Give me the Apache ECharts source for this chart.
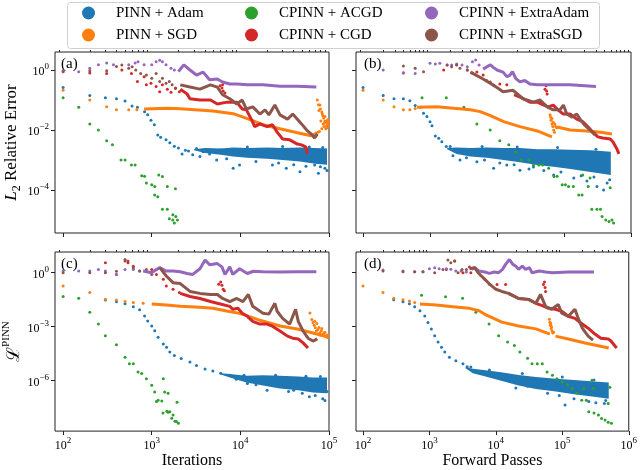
<!DOCTYPE html>
<html>
<head>
<meta charset="utf-8">
<title>PINN vs CPINN convergence</title>
<script src="https://cdn.jsdelivr.net/npm/echarts@6/dist/echarts.min.js"></script>
<style>html,body{margin:0;padding:0;background:#fff;}</style>
</head>
<body>
<div id="main" style="width:640px;height:470px;"></div>
<script type="text/javascript">
var methods = ['PINN + Adam', 'PINN + SGD', 'CPINN + ACGD', 'CPINN + CGD', 'CPINN + ExtraAdam', 'CPINN + ExtraSGD'];
var colors = ['#1f77b4', '#ff7f0e', '#2ca02c', '#d62728', '#9467bd', '#8c564b'];
var panelTags = ['(a)', '(b)', '(c)', '(d)'];
var iterTicks = [1e2, 1e3, 1e4, 1e5];
var passTicks = [1e2, 1e3, 1e4, 1e5, 1e6];
var iterMinor = [90, 200, 300, 400, 500, 600, 700, 800, 900, 2e3, 3e3, 4e3, 5e3, 6e3, 7e3, 8e3, 9e3, 2e4, 3e4, 4e4, 5e4, 6e4, 7e4, 8e4, 9e4];
var passMinor = [90, 200, 300, 400, 500, 600, 700, 800, 900, 2e3, 3e3, 4e3, 5e3, 6e3, 7e3, 8e3, 9e3, 2e4, 3e4, 4e4, 5e4, 6e4, 7e4, 8e4, 9e4, 2e5, 3e5, 4e5, 5e5, 6e5, 7e5, 8e5, 9e5];
var errTicks = [1e-4, 1e-2, 1];
var lossTicks = [1e-6, 1e-3, 1];

// (a) L2 error vs iterations
var aAdamPts = [[100,0.26],[200,0.14],[300,0.12],[400,0.11],[500,0.093],[600,0.063],[690,0.057],[830,0.041],[900,0.032],[980,0.021],[1070,0.015],[1170,6.8e-3],[1260,5.7e-3],[1450,4.7e-3],[1600,3.8e-3],[1800,2.9e-3],[2000,2.5e-3],[2200,1.6e-3],[2400,2.1e-3],[2600,2e-3],[2900,1.5e-3],[3200,2.4e-3],[3500,1.3e-3],[3800,1.9e-3],[4200,2.2e-3],[4500,1.6e-3],[5400,1e-3],[6000,2.2e-3],[7000,1.1e-3],[8300,5.3e-4],[9800,6.8e-4],[1.2e4,2.7e-3],[1.5e4,9e-4],[2.3e4,6.8e-4],[2.7e4,8e-4],[3e4,2.8e-3],[3.3e4,5.3e-4],[4e4,7e-4],[4.7e4,4.1e-4],[5.5e4,6.2e-4],[6e4,2.7e-3],[6.9e4,6.8e-4],[7.6e4,3.6e-4],[8e4,6e-4],[8.5e4,2.6e-3],[9e4,5.3e-4],[9.5e4,4.5e-4]];
var aAdamBand = [[3000,2.1e-3,2.3e-3],[4000,1.7e-3,2.5e-3],[6000,1.5e-3,2.4e-3],[8300,1.3e-3,2.6e-3],[1.2e4,1.2e-3,2.5e-3],[2e4,1.1e-3,2.6e-3],[3e4,1e-3,2.5e-3],[4.7e4,9e-4,2.6e-3],[7e4,7.5e-4,2.5e-3],[9.5e4,7e-4,2.4e-3]];
var aSgdPts = [[100,0.21],[200,0.1],[310,0.06],[400,0.047],[550,0.047],[680,0.047]];
var aSgdLine = [[820,0.05],[1500,0.053],[2100,0.051],[4900,0.043],[8300,0.035],[1.2e4,0.024],[1.8e4,0.015],[2.8e4,0.011],[4.4e4,8.1e-3],[6.1e4,6.6e-3],[7e4,6.2e-3]];
var aSgdCloud = [[6.8e4,7.2e-3],[7.1e4,8e-3],[7.4e4,0.1],[7.5e4,8.5e-3],[7.6e4,0.07],[7.7e4,0.045],[7.8e4,9e-3],[7.9e4,0.068],[8e4,0.05],[8.1e4,0.02],[8.3e4,0.04],[8.3e4,0.011],[8.4e4,0.035],[8.5e4,0.03],[8.6e4,0.016],[8.7e4,0.025],[8.8e4,0.013],[8.9e4,0.017],[9e4,0.02],[9e4,0.028],[9.2e4,0.018],[9.2e4,0.011],[9.4e4,0.014],[9.4e4,0.02],[9.5e4,0.012],[9.6e4,0.016],[9.7e4,0.022],[9.8e4,0.018],[9.8e4,0.014]];
var aAcgdPts = [[100,0.12],[150,0.057],[200,0.016],[250,0.01],[310,4.4e-3],[360,3.2e-3],[450,1e-3],[500,1e-3],[590,6.8e-4],[650,6.8e-4],[770,3e-4],[830,2.9e-4],[870,1.7e-4],[1000,1.5e-4],[1080,1.3e-4],[1200,3.2e-4],[1320,2.8e-4],[1080,6.8e-5],[1170,6e-5],[1500,1.3e-4],[1850,1.1e-4],[1320,2.3e-5],[1500,2.3e-5],[1580,1.1e-5],[1730,1e-5],[1870,1.3e-5],[1730,1.5e-5],[1800,8e-6],[1950,1e-5]];
var aCgdPts = [[200,0.8],[310,0.77],[460,1.0],[590,0.77],[690,0.41],[820,0.6],[870,0.32],[980,0.36],[1120,0.28],[1230,0.19],[1320,0.32],[1500,0.23],[1650,0.18],[1850,0.25],[2050,0.19],[5900,0.3],[6200,0.25],[6300,0.32],[6400,0.2],[6700,0.17]];
var aCgdLine = [[2100,0.23],[2500,0.16],[2700,0.11],[3500,0.1],[4600,0.1],[5500,0.074],[7100,0.085],[9100,0.085],[1.05e4,0.05],[1.17e4,0.047],[1.35e4,0.021],[1.45e4,0.013],[1.66e4,0.016],[2e4,0.013],[2.3e4,0.015],[2.6e4,8.5e-3],[3e4,5e-3],[3.6e4,4.7e-3],[4.4e4,3.4e-3],[4.9e4,3.2e-3],[5.5e4,2.7e-3],[5.7e4,1.6e-3]];
var aXAdamPts = [[100,0.95],[150,0.88],[200,1.14],[250,1.5],[310,1.7],[370,1.5],[550,1.5],[650,1.7],[700,1.9],[820,1.5],[1000,1.5],[1120,1.9],[1230,2.1],[1320,1.9],[1450,1.5],[1650,1.14],[1800,1.0]];
var aXAdamLine = [[2000,0.88],[2100,0.85],[2300,1.48],[2700,1.0],[3200,0.68],[3800,0.85],[4500,0.47],[5500,0.5],[6300,0.4],[7600,0.34],[9100,0.34],[1.2e4,0.32],[1.8e4,0.32],[2.8e4,0.29],[4.4e4,0.29],[7.2e4,0.27]];
var aXSgdPts = [[100,0.88],[200,0.95],[310,0.95],[400,1.3],[460,1.47],[550,1.14],[600,1.29],[660,1.0],[750,0.77],[870,0.68],[1000,0.53],[1120,0.77],[1230,0.41],[1320,0.53],[1450,0.36],[1580,0.41],[1700,0.32],[1850,0.24]];
var aXSgdLine = [[2100,0.32],[2700,0.27],[3500,0.23],[4600,0.32],[5500,0.27],[6300,0.15],[7600,0.11],[9100,0.074],[1.05e4,0.1],[1.17e4,0.05],[1.38e4,0.059],[1.66e4,0.034],[1.9e4,0.047],[2.1e4,0.032],[2.45e4,0.068],[2.8e4,0.032],[3.4e4,0.023],[3.9e4,0.034],[4.4e4,0.023],[4.9e4,0.016],[5.6e4,0.01],[6.5e4,6.8e-3],[6.9e4,5.4e-3],[7.4e4,7.4e-3]];

// (b) L2 error vs forward passes
var bAdamPts = [[100,0.26],[200,0.14],[290,0.11],[400,0.11],[500,0.095],[600,0.065],[720,0.057],[800,0.036],[900,0.028],[1000,0.019],[1070,0.014],[1200,6.3e-3],[1350,5.3e-3],[1500,4.1e-3],[1750,2.8e-3],[2000,2.8e-3],[2200,1.4e-3],[2800,1e-3],[3500,1.2e-3],[5000,8.7e-4],[6000,2.8e-3],[6500,1e-3],[8900,5.3e-4],[1.1e4,8e-4],[1.4e4,6.8e-4],[1.8e4,7e-4],[2e4,2.7e-3],[2.2e4,4.6e-4],[3e4,5e-4],[3.5e4,5.9e-4],[5e4,4.5e-4],[7e4,3.2e-4],[8e4,2.6e-3],[9e4,4e-4],[1.4e5,2.5e-4],[1.8e5,3e-4],[2.2e5,2e-4],[2.8e5,2.7e-4],[3e5,2.3e-3],[3.1e5,1.3e-4],[3.9e5,1e-4],[4.4e5,1.7e-4],[4.8e5,2.2e-4]];
var bAdamBand = [[1800,2.3e-3,2.5e-3],[2500,1.6e-3,2.6e-3],[4000,1.3e-3,2.5e-3],[7000,1.2e-3,2.6e-3],[1.25e4,1e-3,2.5e-3],[2.2e4,8.5e-4,2.5e-3],[4e4,6.8e-4,2.3e-3],[7e4,6e-4,2.3e-3],[1.25e5,5e-4,2.2e-3],[2.5e5,4e-4,2.1e-3],[5e5,3.2e-4,1.9e-3]];
var bSgdPts = [[100,0.21],[200,0.1],[290,0.06],[400,0.047],[500,0.047],[600,0.052]];
var bSgdLine = [[640,0.057],[1260,0.06],[2250,0.053],[4000,0.047],[5600,0.041],[8000,0.03],[1.26e4,0.019],[2.2e4,0.013],[4e4,9.3e-3],[6.6e4,5.9e-3]];
var bSgdSpike = [[6.2e4,0.032],[6.3e4,0.027],[6.4e4,0.021],[6.6e4,0.016],[6.6e4,0.024],[6.8e4,0.013],[6.9e4,0.018],[7e4,0.01],[7.2e4,8.5e-3],[7.3e4,0.016],[7.5e4,0.013],[7.8e4,0.012]];
var bSgdLine2 = [[7.9e4,0.0126],[1.24e5,0.01],[2.2e5,9.3e-3],[3.5e5,8.4e-3],[5.2e5,7.4e-3]];
var bAcgdPts = [[760,0.12],[1750,0.12],[3200,0.057],[5000,0.016],[7900,0.01],[1.1e4,4.4e-3],[1.5e4,3.2e-3],[1.9e4,1.8e-3],[2.3e4,1e-3],[3e4,1e-3],[3.5e4,6.8e-4],[4.2e4,6.8e-4],[4.8e4,6.8e-4],[5.9e4,5.3e-4],[7.1e4,2.8e-4],[7.9e4,2.9e-4],[9.4e4,1.5e-4],[1.05e5,1.5e-4],[1.17e5,1.3e-4],[1.38e5,1.3e-4],[1.66e5,6.8e-5],[1.86e5,6.8e-5],[1.9e5,3.2e-4],[2.45e5,2.5e-4],[2.3e5,1.3e-4],[2.6e5,2.3e-5],[3.1e5,2.3e-5],[3.5e5,2.3e-5],[3.7e5,1.3e-5],[4.2e5,1e-5],[4.7e5,9e-6],[5.2e5,1e-5],[4.9e5,1.2e-4],[5.5e5,8e-6]];
var bCgdPts = [[400,0.8],[1600,1.0],[2500,1.5],[3600,1.0],[4300,0.8],[5000,0.85],[6200,0.68],[7000,0.45],[7900,0.4],[9000,0.3],[1.1e4,0.34],[1.4e4,0.32],[5.2e4,0.23],[5.4e4,0.3],[5.5e4,0.2],[5.6e4,0.16]];
var bCgdLine = [[1.8e4,0.15],[2.2e4,0.126],[3.1e4,0.085],[4e4,0.085],[4.8e4,0.07],[5.8e4,0.059],[6.9e4,0.068],[8.1e4,0.047],[9.8e4,0.034],[1.23e5,0.034],[1.55e5,0.023],[1.9e5,0.019],[2.3e5,0.0126],[2.7e5,8.5e-3],[3.2e5,5.9e-3],[3.8e5,5.4e-3],[4.9e5,5e-3],[5.4e5,4e-3],[6.2e5,2.3e-3],[6.6e5,1.6e-3]];
var bXAdamPts = [[200,1.0],[400,0.81],[600,0.77],[1000,1.67],[1200,1.58],[1400,1.67],[1800,1.47],[2100,1.47],[2500,1.58],[3000,1.47],[3600,1.29],[4300,1.9],[4800,2.15],[5400,1.47]];
var bXAdamLine = [[6200,1.07],[7100,1.29],[8000,1.48],[8900,1.2],[1e4,1.0],[1.23e4,0.85],[1.4e4,0.6],[1.55e4,0.66],[1.7e4,0.88],[1.9e4,0.53],[2.2e4,0.4],[2.6e4,0.45],[3.1e4,0.34],[4e4,0.32],[6.9e4,0.32],[1.23e5,0.32],[3e5,0.28]];
var bXSgdPts = [[400,1.36],[600,1.14],[800,0.88],[1800,1.47],[2100,1.29],[2500,1.47],[2800,1.14],[3600,1.0]];
var bXSgdLine = [[4000,0.85],[6200,0.5],[8700,0.32],[1.23e4,0.19],[1.74e4,0.21],[2.45e4,0.11],[3.5e4,0.085],[4.4e4,0.1],[5.6e4,0.059],[6.9e4,0.047],[8.7e4,0.047],[9.8e4,0.068],[1.1e5,0.034],[1.32e5,0.027],[1.55e5,0.034],[1.74e5,0.023],[2e5,0.015],[2.45e5,0.01],[2.9e5,6.8e-3]];

// (c) PINN loss vs iterations
var cAdamPts = [[300,0.03],[400,0.024],[500,0.019],[620,0.013],[730,8.7e-3],[830,4e-3],[900,2.1e-3],[1000,1.1e-3],[1080,6e-4],[1180,2.6e-4],[1350,1.1e-4],[1470,7.3e-5],[1600,3.9e-5],[1800,2.5e-5],[2150,1.7e-5],[2700,1.1e-5],[3200,7e-6],[4000,4.5e-6],[4900,3.5e-6],[6000,2.6e-6],[7600,2e-6],[9000,1.2e-6],[1.1e4,2e-6],[1.2e4,7e-7],[1.5e4,6e-7],[2e4,3e-7],[2.5e4,2e-6],[3.5e4,2.5e-7],[4e4,3e-7],[5e4,2e-7],[5.5e4,1.8e-6],[6e4,1.3e-7],[7e4,1.5e-7],[8e4,1.7e-6],[8.5e4,1e-7],[9e4,8e-8],[9.5e4,2.5e-7]];
var cAdamBand = [[6000,2.2e-6,2.6e-6],[7600,1.5e-6,2.4e-6],[1.17e4,8e-7,1.9e-6],[1.8e4,5.5e-7,2e-6],[2.8e4,3.7e-7,1.9e-6],[4.5e4,3e-7,1.7e-6],[6.6e4,2.2e-7,1.5e-6],[9.5e4,2e-7,1.5e-6]];
var cSgdPts = [[100,0.18],[200,0.079],[300,0.034],[400,0.03],[500,0.025],[620,0.022],[800,0.02]];
var cSgdLine = [[1000,0.018],[1460,0.016],[2100,0.0135],[3500,0.012],[4900,0.0105],[7000,7.5e-3],[9800,5.5e-3],[1.2e4,4e-3],[1.7e4,2.2e-3],[2.8e4,1.1e-3],[4.4e4,7.4e-4],[6.6e4,4.5e-4],[9.8e4,2.7e-4]];
var cSgdCloud = [[6.1e4,5.8e-3],[6.4e4,2.5e-3],[6.6e4,1.7e-3],[6.8e4,1.2e-3],[6.9e4,2e-3],[7e4,8.7e-4],[7.2e4,5.8e-4],[7.3e4,1.5e-3],[7.5e4,7e-4],[7.7e4,9e-4],[7.9e4,4.7e-4],[8e4,3.5e-4],[8.2e4,6e-4],[8.3e4,8e-4],[8.5e4,3.8e-4],[8.8e4,4.5e-4],[9e4,5e-4],[9.2e4,3e-4],[9.5e4,3.5e-4],[9.6e4,2.5e-4],[9.8e4,3.2e-4]];
var cAcgdPts = [[100,0.048],[150,0.038],[200,6.3e-3],[250,1.4e-3],[300,3.2e-4],[400,1e-4],[500,2e-5],[560,8.8e-6],[620,8.8e-6],[700,3.1e-6],[770,2.5e-6],[870,1.3e-6],[1000,5.6e-7],[1080,2.4e-7],[1130,7e-8],[1180,8.3e-8],[1300,7.5e-8],[1350,1.3e-6],[1400,2.4e-7],[1530,2e-7],[1930,6.5e-8],[1340,1.6e-8],[1480,2e-8],[1530,1.8e-8],[1600,1.9e-8],[1680,8.3e-9],[1740,1.26e-8],[1830,5.7e-9],[1900,5.4e-9],[2000,4.3e-9]];
var cCgdPts = [[300,3.6],[400,0.8],[500,4.4],[540,3.6],[620,2.3],[1000,1.5],[1130,0.8],[1350,0.43],[1460,0.18],[1740,0.12],[2050,0.079],[5700,0.23],[6000,0.3],[6200,0.2],[6400,0.12],[6600,0.1]];
var cCgdLine = [[2100,0.071],[2700,0.048],[3500,0.037],[4600,0.025],[5500,0.02],[7600,0.0135],[8200,9.3e-3],[9400,0.0105],[1.05e4,5.6e-3],[1.2e4,3.8e-3],[1.38e4,2e-3],[1.66e4,1.4e-3],[2e4,1.4e-3],[2.3e4,1.07e-3],[2.8e4,5.8e-4],[3.4e4,3e-4],[3.9e4,2.3e-4],[4.5e4,2.1e-4],[5.1e4,1.26e-4],[5.8e4,6.6e-5]];
var cXAdamPts = [[100,1.23],[150,1.23],[200,1.23],[250,1.5],[300,1.23],[400,0.8],[500,1.5],[620,1.5],[730,1.23]];
var cXAdamLine = [[800,1.23],[1000,1.0],[1130,1.5],[1230,1.9],[1460,1.23],[1740,1.23],[2100,1.12],[2500,0.9],[2900,0.8],[3500,1.66],[4000,5.1],[4500,2.75],[5500,3.2],[6200,2.1],[6700,0.8],[7600,2.1],[8200,0.8],[9800,1.66],[1.2e4,0.9],[1.4e4,1.2],[1.8e4,1.12],[2.8e4,1.1],[4.4e4,1.12],[7.2e4,1.12]];
var cXSgdPts = [[100,1.0],[200,1.0],[300,1.0],[400,1.2],[500,5.4],[540,4.4],[620,1.9],[730,1.23],[870,1.5],[1000,0.8],[1130,1.5]];
var cXSgdLine = [[1230,1.9],[1460,0.66],[1740,0.28],[2100,0.25],[2700,0.091],[3500,0.071],[4600,0.062],[5500,0.062],[6300,0.037],[7600,0.025],[9100,0.037],[1.07e4,0.025],[1.23e4,0.062],[1.38e4,0.0135],[1.8e4,5.6e-3],[2.1e4,5e-3],[2.45e4,0.02],[2.6e4,7.2e-3],[3e4,2.9e-3],[3.6e4,1.4e-3],[4.2e4,9.3e-3],[4.5e4,2e-3],[5.1e4,5.8e-4],[5.8e4,2.3e-4],[6.6e4,1.6e-4],[7.4e4,2.1e-4]];

// (d) PINN loss vs forward passes
var dAdamPts = [[290,0.031],[400,0.024],[500,0.019],[600,0.013],[720,7.7e-3],[850,4e-3],[950,1.7e-3],[1070,7.5e-4],[1200,3.2e-4],[1350,1.4e-4],[1520,7.3e-5],[1700,3.9e-5],[2000,2e-5],[2500,1.3e-5],[3200,8.8e-6],[3700,6e-6],[4200,5.8e-6],[8000,4e-6],[2e4,4e-7],[2.5e4,2.5e-6],[3e4,5e-7],[6e4,2e-7],[9e4,1.5e-7],[1e5,3e-7],[1e5,1.6e-6],[1.1e5,4.5e-8],[1.5e5,1e-7],[2.5e5,7e-8],[3e5,1.1e-6],[3.2e5,6e-8],[4.3e5,5.5e-8],[4.5e5,8e-8]];
var dAdamBand = [[3500,5e-6,5.6e-6],[4500,2.6e-6,4.6e-6],[7000,1.7e-6,3.8e-6],[1.2e4,1e-6,3e-6],[2.2e4,5.5e-7,2.1e-6],[4e4,3.5e-7,1.6e-6],[8e4,2.5e-7,1.3e-6],[1.5e5,1.8e-7,1.1e-6],[3e5,1.3e-7,9e-7],[5e5,1e-7,8e-7]];
var dSgdPts = [[100,0.18],[200,0.079],[290,0.038],[400,0.031],[500,0.027],[600,0.022]];
var dSgdLine = [[720,0.018],[1270,0.016],[2250,0.013],[4000,0.0105],[5600,7.7e-3],[7100,4.5e-3],[1.23e4,1.8e-3],[2.2e4,1.1e-3],[4e4,7.6e-4],[6.5e4,3.9e-4]];
var dSgdSpike = [[6.4e4,2.6e-3],[6.5e4,1.8e-3],[6.6e4,1.2e-3],[6.7e4,1.5e-3],[6.8e4,8e-4],[6.9e4,1e-3],[7e4,6e-4],[7.2e4,4.5e-4],[7.4e4,5e-4]];
var dSgdLine2 = [[7.9e4,3e-4],[1.23e5,2.1e-4],[2.2e5,1.26e-4],[5e5,6.6e-5]];
var dAcgdPts = [[760,0.056],[1750,0.046],[3150,0.038],[5000,6.3e-3],[7900,1.4e-3],[1.1e4,3.2e-4],[1.5e4,1.4e-4],[1.9e4,9e-5],[2.3e4,3.9e-5],[3e4,1.8e-5],[3.5e4,8.8e-6],[4.2e4,8.8e-6],[5e4,8.8e-6],[5.9e4,3.1e-6],[7.1e4,2e-6],[8.3e4,1.3e-6],[1e5,8.5e-7],[1.2e5,6e-7],[1.4e5,3.7e-7],[1.66e5,2e-7],[1.96e5,8.3e-8],[2.3e5,8.3e-8],[2.1e5,3.7e-7],[2.8e5,1.07e-6],[2.9e5,3.7e-7],[2.5e5,1.9e-8],[3e5,1.6e-8],[3.5e5,1.26e-8],[3.9e5,8e-9],[4.4e5,6.6e-9],[4.9e5,5e-9],[5.5e5,4.4e-9],[4.9e5,5.5e-8],[5.2e5,4.4e-7]];
var dCgdPts = [[1800,1.5],[2400,4.4],[3200,1.0],[4000,2.1],[4200,1.0],[6800,0.43],[8000,0.23],[1.04e4,0.22],[1.4e4,0.22],[5.2e4,0.22],[5.4e4,0.3],[5.5e4,0.15],[5.6e4,0.09]];
var dCgdLine = [[1.55e4,0.071],[2.2e4,0.037],[3.1e4,0.033],[4e4,0.02],[5e4,0.015],[6.2e4,0.0105],[7.9e4,9.3e-3],[9.8e4,7.2e-3],[1.23e5,3.8e-3],[1.55e5,2.9e-3],[1.9e5,1.6e-3],[2.45e5,8.3e-4],[3.1e5,3.9e-4],[3.8e5,2.3e-4],[4.9e5,2.1e-4],[5.4e5,1.6e-4],[6.2e5,8.5e-5],[6.6e5,6.6e-5]];
var dXAdamPts = [[200,1.4],[400,1.23],[600,1.14],[800,1.14],[1000,1.66],[1200,1.9],[1400,1.66],[1800,1.66],[2100,1.53],[2500,1.23],[3000,1.23],[3600,1.09]];
var dXAdamLine = [[4300,1.53],[4800,1.9],[5600,1.23],[6800,1.09],[8000,0.92],[9500,1.09],[1.1e4,1.0],[1.26e4,1.53],[1.4e4,2.9],[1.6e4,5.4],[1.8e4,2.9],[2e4,2.3],[2.2e4,1.53],[2.5e4,2.3],[2.8e4,1.53],[3.2e4,1.9],[3.5e4,1.0],[4.5e4,1.23],[5.6e4,1.09],[7.1e4,1.0],[1.23e5,1.09],[3e5,1.09]];
var dXSgdPts = [[200,1.23],[400,1.14],[600,1.14],[800,1.14],[1200,1.0],[1600,1.5],[1900,5.0],[2100,3.6],[2400,4.4],[2700,1.0],[3100,1.5],[3600,1.5]];
var dXSgdLine = [[4000,1.66],[4800,1.9],[5400,1.0],[6200,0.6],[7900,0.25],[1e4,0.12],[1.23e4,0.091],[1.55e4,0.071],[2.2e4,0.037],[3.1e4,0.033],[4e4,0.02],[4.7e4,0.062],[5.6e4,0.0135],[6.9e4,9.3e-3],[8.7e4,0.017],[9.8e4,5.6e-3],[1.23e5,3.8e-3],[1.55e5,9.3e-3],[1.74e5,2.9e-3],[2e5,8.3e-4],[2.45e5,3e-4],[2.9e5,1.8e-4]];

var serif = "'Liberation Serif', 'DejaVu Serif', serif";

// which pieces go in each panel, in plotting order
var panels = [
    [[0,'band',aAdamBand],[0,'dot',aAdamPts],[1,'dot',aSgdPts],[1,'line',aSgdLine],[1,'dot',aSgdCloud],[2,'dot',aAcgdPts],[3,'dot',aCgdPts],[3,'line',aCgdLine],[4,'dot',aXAdamPts],[4,'line',aXAdamLine],[5,'dot',aXSgdPts],[5,'line',aXSgdLine]],
    [[0,'band',bAdamBand],[0,'dot',bAdamPts],[1,'dot',bSgdPts],[1,'line',bSgdLine],[1,'dot',bSgdSpike],[1,'line',bSgdLine2],[2,'dot',bAcgdPts],[3,'dot',bCgdPts],[3,'line',bCgdLine],[4,'dot',bXAdamPts],[4,'line',bXAdamLine],[5,'dot',bXSgdPts],[5,'line',bXSgdLine]],
    [[0,'band',cAdamBand],[0,'dot',cAdamPts],[1,'dot',cSgdPts],[1,'line',cSgdLine],[1,'dot',cSgdCloud],[2,'dot',cAcgdPts],[3,'dot',cCgdPts],[3,'line',cCgdLine],[4,'dot',cXAdamPts],[4,'line',cXAdamLine],[5,'dot',cXSgdPts],[5,'line',cXSgdLine]],
    [[0,'band',dAdamBand],[0,'dot',dAdamPts],[1,'dot',dSgdPts],[1,'line',dSgdLine],[1,'dot',dSgdSpike],[1,'line',dSgdLine2],[2,'dot',dAcgdPts],[3,'dot',dCgdPts],[3,'line',dCgdLine],[4,'dot',dXAdamPts],[4,'line',dXAdamLine],[5,'dot',dXSgdPts],[5,'line',dXSgdLine]]
];

function makeSeries(g, m, kind, data) {
    var s = { name: methods[m], xAxisIndex: 2 * g, yAxisIndex: g, data: data, silent: true, animation: false };
    if (kind === 'dot') {
        s.type = 'scatter';
        s.symbolSize = 3;
        s.itemStyle = { color: colors[m], opacity: 1 };
    } else if (kind === 'line') {
        s.type = 'line';
        s.showSymbol = false;
        s.symbol = 'none';
        s.lineStyle = { color: colors[m], width: 3 };
        s.itemStyle = { color: colors[m] };
    } else {
        // dense cloud of points drawn as a filled band between its lower and upper edge
        s.type = 'custom';
        s.encode = { x: 0, y: [1, 2] };
        s.itemStyle = { color: colors[m] };
        s.renderItem = function (params, api) {
            if (params.dataIndex !== 0) return null;
            var upper = data.map(function (r) { return api.coord([r[0], r[2]]); });
            var lower = data.slice().reverse().map(function (r) { return api.coord([r[0], r[1]]); });
            return { type: 'polygon', shape: { points: upper.concat(lower) }, style: { fill: colors[m] } };
        };
    }
    return s;
}

function powLabel(v) {
    var e = Math.round(Math.log10(v));
    return '{b|10}{s|' + (e < 0 ? '\u2212' + (-e) : e) + '}';
}
var tickRich = {
    b: { fontFamily: serif, fontSize: 12, lineHeight: 16, verticalAlign: 'bottom', color: '#000' },
    s: { fontFamily: serif, fontSize: 9, lineHeight: 6, verticalAlign: 'top', color: '#000' }
};

var grids = [
    { left: 55, top: 52, width: 274, height: 181 },
    { left: 356, top: 52, width: 275, height: 181 },
    { left: 55, top: 252, width: 274, height: 181 },
    { left: 356, top: 252, width: 275, height: 181 }
];
grids.forEach(function (gr) { gr.show = true; gr.borderColor = '#222'; gr.borderWidth = 1; gr.containLabel = false; });

var xAxes = [];
var yAxes = [];
for (var g = 0; g < 4; g++) {
    var isIter = (g % 2 === 0);
    var xmin = isIter ? 81 : 78.5;
    var xmax = isIter ? 1.0005e5 : 1.0005e6;
    xAxes.push({
        type: 'log', gridIndex: g, min: xmin, max: xmax,
        axisLine: { show: false }, splitLine: { show: false },
        axisTick: { customValues: isIter ? iterTicks : passTicks, length: 4, lineStyle: { color: '#222' } },
        axisLabel: { show: g >= 2, customValues: isIter ? iterTicks : passTicks, formatter: powLabel, margin: 5, rich: tickRich },
        name: g >= 2 ? (isIter ? 'Iterations' : 'Forward Passes') : '',
        nameLocation: 'middle', nameGap: 21,
        nameTextStyle: { fontFamily: serif, fontSize: 16, color: '#000' }
    });
    xAxes.push({
        type: 'log', gridIndex: g, min: xmin, max: xmax,
        axisLine: { show: false }, splitLine: { show: false }, axisLabel: { show: false },
        axisTick: { customValues: isIter ? iterMinor : passMinor, length: 2, lineStyle: { color: '#222' } }
    });
    var isErr = g < 2;
    var yTicks = isErr ? errTicks : lossTicks;
    yAxes.push({
        type: 'log', gridIndex: g,
        min: isErr ? 3.7e-6 : 1.6e-9, max: isErr ? 3.98 : 14.1,
        axisLine: { show: false }, splitLine: { show: false },
        axisTick: { customValues: yTicks, length: 4, lineStyle: { color: '#222' } },
        axisLabel: { show: g % 2 === 0, customValues: yTicks, formatter: powLabel, margin: 6, rich: tickRich },
        name: g === 0 ? '{i|L}{sub|2}{t| Relative Error}' : (g === 2 ? '{l|\u2112}{p|PINN}' : ''),
        nameLocation: 'middle', nameGap: 32,
        nameTextStyle: {
            color: '#000',
            rich: {
                i: { fontFamily: serif, fontStyle: 'italic', fontSize: 17, lineHeight: 20, verticalAlign: 'top', color: '#000' },
                sub: { fontFamily: serif, fontSize: 12, lineHeight: 12, verticalAlign: 'bottom', color: '#000' },
                t: { fontFamily: serif, fontSize: 17, lineHeight: 20, verticalAlign: 'top', color: '#000' },
                l: { fontFamily: "'DejaVu Serif', serif", fontSize: 18, lineHeight: 22, verticalAlign: 'bottom', color: '#000' },
                p: { fontFamily: serif, fontSize: 11, lineHeight: 10, verticalAlign: 'top', color: '#000' }
            }
        }
    });
}

var series = [];
panels.forEach(function (parts, g) {
    parts.forEach(function (p) { series.push(makeSeries(g, p[0], p[1], p[2])); });
});

var legendText = { fontFamily: serif, fontSize: 15, color: '#000', lineHeight: 16, padding: [0, 0, 0, 16] };
var legendCols = [[methods[0], methods[1]], [methods[2], methods[3]], [methods[4], methods[5]]];
var legendLeft = [82, 245, 425];
var legends = legendCols.map(function (names, i) {
    return {
        data: names.map(function (n) { return { name: n, icon: 'circle', textStyle: legendText }; }),
        left: legendLeft[i], top: 5, orient: 'vertical', padding: 0,
        itemWidth: 13, itemHeight: 13, itemGap: 6, selectedMode: false,
        textStyle: legendText
    };
});

var myChart = echarts.init(document.getElementById('main'), null, { renderer: 'canvas' });
var option = {
    backgroundColor: '#fff',
    animation: false,
    textStyle: { fontFamily: serif },
    title: panelTags.map(function (t, i) {
        return { text: t, left: (i % 2 === 0) ? 61 : 364, top: (i < 2) ? 57 : 257, padding: 0,
                 textStyle: { fontFamily: serif, fontSize: 15, fontWeight: 'normal', color: '#000' } };
    }),
    graphic: [{ type: 'rect', left: 67, top: 2, z: 0, shape: { width: 532, height: 46, r: 3 },
                style: { fill: '#fff', stroke: '#d0d0d0', lineWidth: 1 } }],
    legend: legends,
    grid: grids,
    xAxis: xAxes,
    yAxis: yAxes,
    series: series
};
myChart.setOption(option);
</script>
</body>
</html>
